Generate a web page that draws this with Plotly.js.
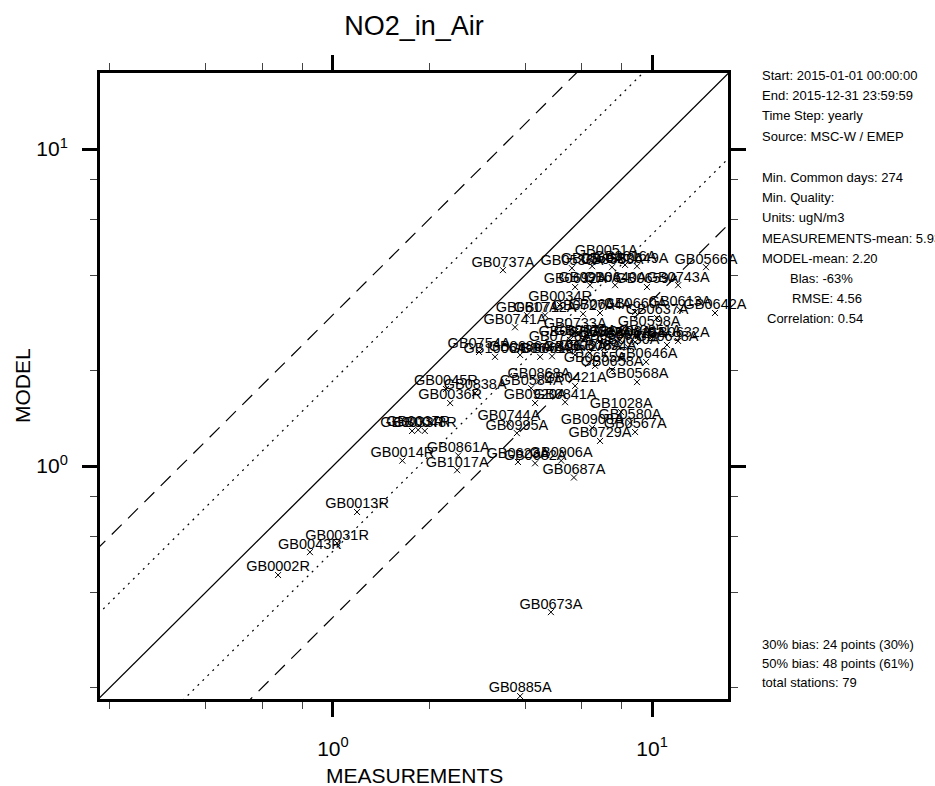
<!DOCTYPE html>
<html><head><meta charset="utf-8">
<script src="https://cdn.plot.ly/plotly-3.0.1.min.js"></script>
<style>html,body{margin:0;padding:0;background:#fff}#chart{width:935px;height:786px}</style>
</head><body><div id="chart"></div>
<script>
const stations = ["GB0737A","GB0566A","GB0051A","GB0536A","GB0569A","GB0583A","GB0616A","GB0649A",
"GB0692A","GB0916A","GB0640A","GB0659A","GB0743A",
"GB0034R","GB0617A","GB0727A","GB0604A","GB0660A","GB0613A","GB0637A","GB0642A","GB0741A","GB0733A","GB0598A",
"GB0571A","GB0579A","GB0587A","GB0596A","GB0608A","GB0619A","GB0851A","GB0698A","GB0632A",
"GB0754A","GB1006A","GB0686A","GB0648A","GB0618A","GB0672A","GB0678A","GB0694A","GB0646A",
"GB0658A","GB0655A","GB0568A","GB0868A","GB0421A","GB0584A",
"GB0045R","GB0838A","GB0036R","GB0920A","GB0841A",
"GB0744A","GB0995A","GB0033R","GB0037R","GB0048R","GB1028A","GB0580A","GB0567A","GB0908A","GB0729A",
"GB0861A","GB1017A","GB0014R","GB0906A","GB0682A","GB0623A","GB0687A",
"GB0013R","GB0031R","GB0043R","GB0002R","GB0673A","GB0885A",
"GB0726A","GB0650A","GB0712A"];
const measurements = [3.41,14.76,7.18,5.61,6.49,7.49,8.23,8.97,
5.74,6.39,7.66,9.64,12.07,
5.15,4.06,6.08,6.87,8.85,12.24,10.37,15.75,3.72,5.74,9.79,
5.53,6.17,6.87,7.38,7.94,8.85,9.86,11.14,12.07,
2.87,3.22,3.86,4.46,4.86,5.74,6.39,7.12,9.58,
7.49,6.63,8.97,4.42,5.74,4.18,
2.26,2.79,2.33,4.30,5.34,
3.56,3.77,1.77,1.85,1.94,8.00,8.53,8.85,6.49,6.87,
2.47,2.45,1.65,5.19,4.30,3.80,5.69,
1.19,1.03,0.847,0.673,4.82,3.86,
5.15,8.41,4.62];
const model = [4.15,4.24,4.50,4.21,4.27,4.24,4.31,4.27,
3.67,3.72,3.72,3.67,3.72,
3.22,2.99,3.02,3.04,3.06,3.11,2.93,3.04,2.74,2.65,2.69,
2.50,2.53,2.48,2.44,2.50,2.46,2.53,2.41,2.48,
2.29,2.21,2.24,2.21,2.22,2.24,2.27,2.26,2.13,
2.01,2.07,1.84,1.85,1.79,1.76,
1.75,1.70,1.58,1.58,1.59,
1.36,1.27,1.29,1.30,1.29,1.48,1.37,1.28,1.32,1.20,
1.08,0.97,1.04,1.04,1.02,1.03,0.92,
0.716,0.571,0.535,0.453,0.346,0.188,
2.41,2.37,2.99];

const majorTicks = [1, 10];
const majorTickText = ["10<sup>0</sup>", "10<sup>1</sup>"];
const minorTicks = [0.2, 0.4, 0.6, 0.8, 2, 4, 6, 8];
const lineFactors = [1, 1.857, 1/1.857, 3, 1/3];
const lineDashes = ["solid", "2px,5px", "2px,5px", "14px,9px", "14px,9px"];
const lineSpan = [0.1, 30];

const infoTop = ["Start: 2015-01-01 00:00:00","End: 2015-12-31 23:59:59","Time Step: yearly","Source: MSC-W / EMEP",
"Min. Common days: 274","Min. Quality:","Units: ugN/m3","MEASUREMENTS-mean: 5.93","MODEL-mean: 2.20",
"Blas: -63%","RMSE: 4.56","Correlation: 0.54"];
const infoTopY = [75,96,116,136,177,197,217,238,258,278,298,318];
const infoTopX = [760,760,760,760,760,760,760,760,760,788,790,765];
const infoBottom = ["30% bias: 24 points (30%)","50% bias: 48 points (61%)","total stations: 79"];
const infoBottomY = [644,663,682];

const L = 100, R = 728, T = 73, B = 699, W = 935, H = 786;
const px2paperX = p => (p - L) / (R - L);
const px2paperY = p => (B - p) / (B - T);
const FONT = 'Liberation Sans, Arial, sans-serif';

const traces = [];
lineFactors.forEach((f, i) => {
  traces.push({x: lineSpan, y: lineSpan.map(v => v * f), mode: 'lines', type: 'scatter',
    line: {color: '#000', width: i === 0 ? 1.3 : 1.2, dash: lineDashes[i]}, hoverinfo: 'skip', showlegend: false});
});
traces.push({x: measurements, y: model, mode: 'markers', type: 'scatter',
  marker: {symbol: 'x-thin-open', size: 6, color: '#000', line: {width: 1, color: '#000'}},
  showlegend: false, cliponaxis: false});
traces.push({x: measurements, y: model, text: stations, mode: 'text', type: 'scatter',
  textposition: 'top center', textfont: {family: FONT, size: 14.5, color: '#000'},
  showlegend: false, cliponaxis: false});

const axisCommon = {
  type: 'log', showgrid: false, zeroline: false, showline: true, linewidth: 3, linecolor: '#000',
  mirror: 'allticks', ticks: 'outside', ticklen: 15, tickwidth: 3, tickcolor: '#000',
  tickmode: 'array', tickvals: majorTicks, ticktext: majorTickText,
  tickfont: {family: FONT, size: 21, color: '#000'},
  minor: {tickmode: 'array', tickvals: minorTicks, ticks: 'outside', ticklen: 7, tickwidth: 1, tickcolor: '#444', showgrid: false},
  fixedrange: true
};

const annotations = [];
infoTop.forEach((t, i) => annotations.push({text: t, xref: 'paper', yref: 'paper', x: px2paperX(infoTopX[i]), y: px2paperY(infoTopY[i]),
  xanchor: 'left', yanchor: 'middle', showarrow: false, font: {family: FONT, size: 13, color: '#000'}}));
infoBottom.forEach((t, i) => annotations.push({text: t, xref: 'paper', yref: 'paper', x: px2paperX(760), y: px2paperY(infoBottomY[i]),
  xanchor: 'left', yanchor: 'middle', showarrow: false, font: {family: FONT, size: 13, color: '#000'}}));
annotations.push({text: 'MEASUREMENTS', xref: 'paper', yref: 'paper', x: 0.5, y: px2paperY(775), xanchor: 'center', yanchor: 'middle',
  showarrow: false, font: {family: FONT, size: 21, color: '#000'}});
annotations.push({text: 'MODEL', xref: 'paper', yref: 'paper', x: px2paperX(22), y: 0.5, xanchor: 'center', yanchor: 'middle',
  textangle: -90, showarrow: false, font: {family: FONT, size: 21, color: '#000'}});

const layout = {
  width: W, height: H, paper_bgcolor: '#fff', plot_bgcolor: '#fff',
  margin: {l: L, r: W - R, t: T, b: H - B, pad: 0},
  title: {text: 'NO2_in_Air', xref: 'paper', x: 0.5, xanchor: 'center', yref: 'container', y: 1 - 26 / H, yanchor: 'middle',
    font: {family: FONT, size: 27, color: '#000'}},
  xaxis: Object.assign({}, axisCommon, {range: [-0.730, 1.238], ticklabelstandoff: 14}),
  yaxis: Object.assign({}, axisCommon, {range: [-0.735, 1.240], ticklabelstandoff: 10}),
  showlegend: false, hovermode: false,
  annotations: annotations
};

Plotly.newPlot('chart', traces, layout, {displayModeBar: false, staticPlot: true});
</script>
</body></html>
